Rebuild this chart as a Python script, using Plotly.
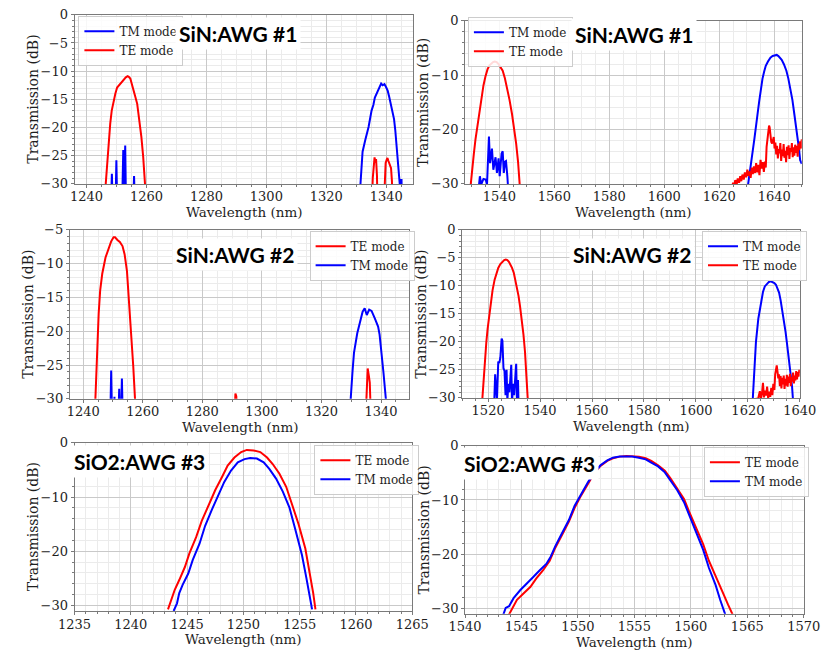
import plotly.graph_objects as go

W, H = 837, 659

# ---------------- spectra (wavelength in nm, transmission in dB) ----------------
# SiN AWG #1, O-band channel
awg1_o_tm_wl = [1244.0, 1248.2, 1248.45, 1248.7, 1249.7, 1249.95, 1250.2, 1251.9, 1252.25, 1252.55,
                1252.9, 1253.15, 1255.6, 1255.85, 1256.1, 1290.0, 1331.2, 1331.4, 1332.1, 1333.0,
                1334.1, 1335.1, 1335.7, 1336.2, 1336.8, 1337.3, 1337.8, 1338.3, 1338.8, 1339.4,
                1340.0, 1340.5, 1341.0, 1341.5, 1342.1, 1342.6, 1343.0, 1343.4, 1343.8, 1344.2,
                1344.5, 1344.6, 1344.8, 1345.1, 1345.2, 1350.0]
awg1_o_tm_db = [-40, -33, -28.2, -33, -33, -25.8, -33, -33, -24.0, -31,
                -23.2, -33, -33, -28.6, -33, -40, -33, -30, -24.3, -22.2,
                -19.9, -17.0, -16.0, -14.7, -13.9, -13.2, -12.8, -12.2, -12.5, -12.3,
                -12.9, -13.5, -14.6, -15.8, -17.0, -18.5, -20.4, -22.8, -25.0, -27.5,
                -30, -33, -29.3, -29.3, -33, -40]
awg1_o_te_wl = [1240.0, 1246.2, 1246.4, 1246.7, 1247.3, 1247.9, 1248.4, 1249.0, 1249.6, 1250.2,
                1250.8, 1251.4, 1252.0, 1252.5, 1253.1, 1253.7, 1254.1, 1254.6, 1255.0, 1255.4,
                1255.8, 1256.2, 1256.9, 1257.5, 1257.9, 1258.3, 1258.9, 1259.5, 1259.7, 1260.0,
                1300.0, 1335.2, 1335.5, 1335.8, 1336.1, 1336.4, 1336.6, 1336.9, 1337.1, 1339.2,
                1339.5, 1339.8, 1340.1, 1340.4, 1340.7, 1341.0, 1341.3, 1341.6, 1341.9, 1342.1,
                1350.0]
awg1_o_te_db = [-40, -34, -30, -27.5, -23.0, -19.3, -17.0, -15.3, -14.0, -12.9,
                -12.5, -12.2, -11.8, -11.5, -11.1, -10.9, -11.0, -11.3, -12.2, -13.0,
                -13.7, -14.4, -15.8, -18.2, -20.0, -21.7, -25.2, -28.7, -30, -34,
                -40, -34, -29.0, -26.5, -25.3, -26.2, -25.6, -28.5, -34, -34,
                -28.5, -26.3, -25.8, -25.4, -25.9, -26.4, -26.9, -27.2, -29.5, -34,
                -40]

# SiN AWG #1, C/L-band channel
awg1_c_tm_wl = [1527.5, 1532.5, 1532.9, 1533.4, 1534.2, 1535.0, 1535.5, 1535.9, 1536.2, 1536.6,
                1537.1, 1537.3, 1537.8, 1538.3, 1538.6, 1539.1, 1539.7, 1540.1, 1540.8, 1541.2,
                1541.6, 1542.1, 1542.4, 1542.9, 1543.2, 1580.0, 1630.3, 1630.5, 1631.1, 1631.6,
                1632.2, 1632.8, 1633.4, 1633.9, 1634.5, 1635.1, 1635.7, 1636.3, 1636.9, 1637.7,
                1638.6, 1639.4, 1640.3, 1640.9, 1641.5, 1642.1, 1642.7, 1643.5, 1644.4, 1645.1,
                1645.9, 1646.6, 1647.3, 1647.9, 1648.5, 1649.0, 1649.4, 1650.0]
awg1_c_tm_db = [-40, -30.7, -28.6, -30.1, -29.1, -29.2, -30.1, -22.6, -21.3, -26.2,
                -23.8, -23.5, -27.4, -25.3, -25.1, -28.0, -25.3, -28.6, -24.4, -24.0,
                -28.0, -25.9, -25.8, -28.6, -31.0, -40, -33, -30, -27.4, -25.5,
                -23.8, -21.6, -19.6, -17.2, -14.9, -12.7, -10.7, -9.4, -8.3, -7.5,
                -6.8, -6.5, -6.3, -6.3, -6.5, -6.8, -7.2, -8.0, -9.2, -10.6,
                -12.5, -14.6, -17.2, -19.3, -21.4, -23.6, -25.6, -26.3]
awg1_c_te_wl = [1527.0, 1529.4, 1529.6, 1530.0, 1530.7, 1531.3, 1531.9, 1532.5, 1533.0, 1533.6,
                1534.2, 1534.9, 1535.7, 1536.4, 1537.1, 1537.7, 1538.3, 1539.0, 1539.7, 1540.4,
                1541.2, 1542.0, 1542.9, 1543.7, 1544.6, 1545.3, 1546.1, 1546.8, 1547.5, 1547.8,
                1590.0, 1624.5, 1625.0, 1625.4, 1625.8, 1626.3, 1626.7, 1627.2, 1627.6, 1628.0,
                1628.4, 1628.9, 1629.3, 1629.8, 1630.2, 1630.6, 1631.0, 1631.4, 1631.8, 1632.2,
                1632.6, 1633.0, 1633.4, 1633.8, 1634.2, 1634.6, 1635.0, 1635.4, 1635.8, 1636.2,
                1636.6, 1636.9, 1637.2, 1637.5, 1637.8, 1638.1, 1638.3, 1638.6, 1638.9, 1639.2,
                1639.5, 1639.8, 1640.1, 1640.4, 1640.7, 1641.0, 1641.3, 1641.6, 1641.9, 1642.2,
                1642.5, 1642.8, 1643.1, 1643.4, 1643.7, 1644.0, 1644.3, 1644.6, 1644.9, 1645.2,
                1645.5, 1645.8, 1646.1, 1646.4, 1646.7, 1647.0, 1647.3, 1647.6, 1647.9, 1648.2,
                1648.5, 1648.8, 1649.1, 1649.4, 1649.7, 1650.0]
awg1_c_te_db = [-40, -33, -30, -27.5, -24.5, -21.8, -19.6, -17.3, -15.4, -13.5,
                -11.9, -10.3, -8.9, -8.2, -7.8, -7.6, -7.5, -7.6, -8.0, -8.5,
                -9.2, -10.6, -12.5, -14.6, -17.2, -19.6, -22.6, -26.0, -30, -33,
                -40, -31, -29.8, -30.5, -29.3, -30.2, -29.0, -29.8, -28.6, -29.5,
                -28.3, -29.2, -27.9, -28.8, -27.4, -28.5, -27.7, -28.9, -27.0, -28.2,
                -26.8, -28.0, -26.2, -27.9, -26.5, -28.4, -25.6, -27.2, -26.0, -27.8,
                -25.9, -27.0, -23.2, -21.5, -20.2, -19.3, -19.6, -21.2, -22.3, -22.6,
                -21.8, -21.4, -23.5, -22.4, -24.6, -23.0, -25.3, -23.6, -24.4, -22.5,
                -25.8, -23.7, -24.9, -22.7, -25.2, -23.9, -26.0, -23.2, -24.7, -22.9,
                -25.4, -23.4, -24.1, -22.5, -25.1, -23.3, -24.8, -22.8, -24.3, -23.0,
                -25.0, -22.6, -23.8, -22.2, -23.5, -21.8]

# SiN AWG #2, O-band channel
awg2_o_te_wl = [1236.0, 1243.9, 1244.1, 1244.4, 1244.8, 1245.2, 1245.7, 1246.4, 1247.5, 1248.6,
                1249.4, 1250.2, 1250.7, 1251.5, 1252.3, 1253.2, 1253.9, 1254.7, 1255.3, 1256.1,
                1256.8, 1257.4, 1257.7, 1275.0, 1290.8, 1291.1, 1291.4, 1291.7, 1310.0, 1334.8,
                1335.2, 1335.5, 1335.9, 1336.2, 1336.6, 1349.5]
awg2_o_te_db = [-40, -33, -30, -25.6, -21.2, -17.4, -14.0, -11.5, -9.1, -7.7,
                -6.7, -6.1, -6.1, -6.5, -6.8, -7.4, -8.6, -11.1, -14.9, -19.8,
                -25.1, -30, -33, -40, -33, -29.2, -29.6, -33, -40, -33,
                -28.3, -25.5, -26.6, -27.6, -33, -40]
awg2_o_tm_wl = [1236.0, 1249.1, 1249.4, 1249.7, 1250.3, 1250.5, 1250.7, 1251.8, 1252.1, 1252.3,
                1252.7, 1253.0, 1253.3, 1290.0, 1329.6, 1329.8, 1330.4, 1330.9, 1332.0, 1333.1,
                1333.8, 1334.5, 1335.2, 1336.0, 1336.8, 1337.9, 1339.0, 1339.5, 1340.1, 1340.8,
                1341.6, 1341.8, 1349.5]
awg2_o_tm_db = [-40, -33, -25.8, -33, -33, -29.7, -33, -33, -28.5, -33,
                -33, -27.0, -33, -40, -33, -30, -26.0, -23.2, -20.3, -18.3,
                -17.1, -16.6, -17.6, -16.8, -17.0, -18.1, -19.3, -20.5, -22.7, -26.1,
                -30, -33, -40]

# SiN AWG #2, C/L-band channel
awg2_c_te_wl = [1512.0, 1517.6, 1517.8, 1518.3, 1518.8, 1519.3, 1519.8, 1520.4, 1521.0, 1521.7,
                1522.5, 1523.2, 1523.9, 1524.7, 1525.5, 1526.2, 1526.8, 1527.4, 1528.0, 1528.6,
                1529.2, 1529.9, 1530.5, 1531.1, 1531.7, 1532.3, 1532.9, 1533.6, 1534.2, 1534.8,
                1535.4, 1535.6, 1580.0, 1623.2, 1623.4, 1623.8, 1624.2, 1624.6, 1625.0, 1625.4,
                1625.8, 1626.2, 1626.6, 1627.0, 1627.4, 1627.8, 1628.2, 1628.6, 1629.0, 1629.4,
                1629.8, 1630.2, 1630.5, 1630.8, 1631.1, 1631.4, 1631.7, 1632.0, 1632.3, 1632.6,
                1632.9, 1633.2, 1633.5, 1633.8, 1634.1, 1634.4, 1634.7, 1635.0, 1635.3, 1635.6,
                1635.9, 1636.2, 1636.5, 1636.8, 1637.1, 1637.4, 1637.7, 1638.0, 1638.3, 1638.6,
                1638.9, 1639.2, 1639.5, 1639.8, 1640.0]
awg2_c_te_db = [-40, -33, -30, -26.0, -22.9, -20.1, -17.7, -15.2, -13.0, -10.8,
                -8.9, -7.7, -6.8, -6.1, -5.7, -5.4, -5.3, -5.4, -5.7, -6.2,
                -6.8, -7.7, -8.9, -10.2, -11.8, -13.7, -15.9, -18.7, -21.8, -25.5,
                -30, -33, -40, -33, -30, -30.5, -29.6, -28.8, -30.2, -29.3,
                -27.3, -29.9, -28.7, -29.6, -28.0, -30.1, -28.9, -29.8, -28.2, -29.5,
                -27.5, -28.6, -25.8, -24.4, -24.2, -25.3, -26.5, -25.8, -27.9, -26.1,
                -28.3, -26.4, -27.6, -26.0, -28.4, -26.6, -27.8, -25.9, -28.0, -26.2,
                -27.3, -25.7, -27.9, -26.3, -27.1, -25.5, -27.4, -26.0, -26.9, -25.2,
                -26.7, -25.4, -26.2, -25.0, -25.6]
awg2_c_tm_wl = [1515.0, 1522.2, 1522.7, 1523.0, 1523.4, 1523.9, 1524.3, 1524.7, 1525.2, 1525.5,
                1525.9, 1526.3, 1526.7, 1527.1, 1527.4, 1527.8, 1528.2, 1528.6, 1528.9, 1529.2,
                1529.6, 1530.0, 1530.5, 1530.8, 1531.1, 1531.5, 1531.7, 1532.0, 1600.0, 1621.7,
                1621.9, 1622.4, 1623.1, 1624.0, 1624.6, 1625.2, 1625.8, 1626.5, 1627.3, 1628.1,
                1628.8, 1629.5, 1630.2, 1630.8, 1631.4, 1632.0, 1632.6, 1633.2, 1633.9, 1634.5,
                1635.1, 1635.7, 1636.2, 1636.7, 1637.0, 1637.3, 1637.5, 1640.0]
awg2_c_tm_db = [-40, -33, -25.8, -27.5, -30.5, -23.5, -23.8, -22.8, -19.4, -19.8,
                -24.7, -25.2, -29.5, -25.0, -30.5, -27.5, -29.0, -26.2, -24.1, -31,
                -27.5, -29.5, -24.1, -23.9, -31, -26.8, -31, -40, -40, -33,
                -30, -24.7, -20.0, -15.9, -14.0, -12.4, -11.1, -10.1, -9.6, -9.3,
                -9.2, -9.3, -9.5, -9.8, -10.4, -11.2, -12.6, -14.2, -16.1, -18.2,
                -20.5, -22.9, -24.7, -26.4, -28.0, -30, -33, -40]

# SiO2 AWG #3, O-band channel
awg3_o_te_wl = [1243.3, 1243.4, 1243.6, 1243.9, 1244.3, 1244.8, 1245.2, 1245.8, 1246.3, 1246.9,
                1247.5, 1248.1, 1248.6, 1249.2, 1249.8, 1250.3, 1250.9, 1251.5, 1252.1, 1252.6,
                1253.2, 1253.8, 1254.3, 1254.9, 1255.5, 1255.9, 1256.2, 1256.4]
awg3_o_te_db = [-30.7, -30.1, -28.6, -27.1, -25.3, -22.9, -20.4, -17.4, -14.4, -11.4,
                -8.7, -6.3, -4.2, -2.7, -1.7, -1.3, -1.4, -1.7, -2.7, -3.9,
                -5.7, -8.1, -11.1, -15.0, -19.5, -24.1, -27.7, -30.7]
awg3_o_tm_wl = [1243.8, 1244.1, 1244.3, 1244.6, 1245.1, 1245.5, 1246.1, 1246.6, 1247.2, 1247.8,
                1248.3, 1248.9, 1249.5, 1250.1, 1250.6, 1251.2, 1251.8, 1252.3, 1252.9, 1253.5,
                1254.1, 1254.6, 1255.2, 1255.6, 1255.9, 1256.1]
awg3_o_tm_db = [-31.0, -29.6, -27.7, -26.2, -24.1, -21.6, -18.6, -15.3, -12.3, -9.6,
                -7.2, -5.1, -3.6, -3.0, -2.8, -2.9, -3.6, -4.8, -6.6, -9.0,
                -12.0, -15.9, -20.7, -25.0, -28.3, -30.7]

# SiO2 AWG #3, C-band channel
awg3_c_te_wl = [1543.9, 1544.2, 1544.6, 1545.2, 1545.8, 1546.3, 1546.9, 1547.5, 1548.0, 1548.6,
                1549.2, 1549.7, 1550.3, 1550.9, 1551.4, 1552.0, 1552.6, 1553.1, 1553.7, 1554.3,
                1554.8, 1555.4, 1556.0, 1556.5, 1557.1, 1557.7, 1558.2, 1558.8, 1559.4, 1559.9,
                1560.5, 1561.1, 1561.6, 1562.2, 1562.8, 1563.3, 1563.7]
awg3_c_te_db = [-31.1, -29.9, -28.4, -27.2, -26.0, -24.5, -23.0, -21.2, -18.8, -16.4,
                -14.0, -11.5, -9.1, -7.0, -5.2, -3.7, -2.8, -2.3, -2.0, -1.9,
                -1.9, -2.0, -2.3, -2.8, -3.6, -4.6, -6.0, -7.8, -9.8, -12.4,
                -15.2, -18.2, -21.2, -24.2, -26.9, -29.3, -31.1]
awg3_c_tm_wl = [1543.4, 1543.6, 1543.9, 1544.3, 1544.9, 1545.5, 1546.0, 1546.6, 1547.2, 1547.6,
                1548.0, 1548.6, 1549.2, 1549.7, 1550.3, 1550.9, 1551.4, 1552.0, 1552.6, 1553.1,
                1553.7, 1554.3, 1554.8, 1555.4, 1556.0, 1556.5, 1557.1, 1557.7, 1558.2, 1558.8,
                1559.4, 1559.9, 1560.5, 1561.1, 1561.6, 1562.2, 1562.6, 1562.9, 1563.1]
awg3_c_tm_db = [-31.1, -29.9, -29.6, -28.1, -26.6, -25.4, -24.3, -23.0, -21.8, -20.4,
                -18.5, -16.1, -13.7, -11.1, -8.8, -6.7, -5.1, -3.6, -2.7, -2.2,
                -2.0, -2.0, -2.0, -2.2, -2.5, -3.1, -3.8, -4.9, -6.4, -8.2,
                -10.4, -13.0, -16.0, -19.2, -22.5, -25.7, -28.4, -30.5, -31.4]

# ---------------- panel layout ----------------
BLUE, RED = "#0000ff", "#ff0000"
SERIF = "DejaVu Serif"
TXT = "#1e1e1e"
FRAME = "#7a7a7a"

panels = [
    dict(box=(60, 413, 8, 181), xr=[1236, 1349], xdt=20, xmn=5, yr=[-30, 0], ydt=5, ymn=1,
         label="SiN:AWG #1", lab_xy=(230, 27), leg_xy=(64, 9),
         traces=[("TM mode", BLUE, awg1_o_tm_wl, awg1_o_tm_db),
                 ("TE mode", RED, awg1_o_te_wl, awg1_o_te_db)]),
    dict(box=(467, 818, 14, 181), xr=[1527.5, 1650], xdt=20, xmn=5, yr=[-30, 0], ydt=10, ymn=2,
         label="SiN:AWG #1", lab_xy=(643, 28), leg_xy=(470, 10),
         traces=[("TM mode", BLUE, awg1_c_tm_wl, awg1_c_tm_db),
                 ("TE mode", RED, awg1_c_te_wl, awg1_c_te_db)]),
    dict(box=(55, 409, 228, 401), xr=[1235.5, 1349.5], xdt=20, xmn=5, yr=[-30, -5], ydt=5, ymn=1,
         label="SiN:AWG #2", lab_xy=(227, 253), leg_xy=(305, 229),
         traces=[("TE mode", RED, awg2_o_te_wl, awg2_o_te_db),
                 ("TM mode", BLUE, awg2_o_tm_wl, awg2_o_tm_db)]),
    dict(box=(464, 816, 228, 400), xr=[1510, 1640], xdt=20, xmn=5, yr=[-30, 0], ydt=5, ymn=1,
         label="SiN:AWG #2", lab_xy=(641, 253), leg_xy=(714, 229),
         traces=[("TM mode", BLUE, awg2_c_tm_wl, awg2_c_tm_db),
                 ("TE mode", RED, awg2_c_te_wl, awg2_c_te_db)]),
    dict(box=(60, 412, 446, 618), xr=[1235, 1265], xdt=5, xmn=1, yr=[-31, 0], ydt=10, ymn=2,
         label="SiO2:AWG #3", lab_xy=(128, 465), leg_xy=(310, 448),
         traces=[("TE mode", RED, awg3_o_te_wl, awg3_o_te_db),
                 ("TM mode", BLUE, awg3_o_tm_wl, awg3_o_tm_db)]),
    dict(box=(467, 820, 449, 621), xr=[1540, 1570], xdt=5, xmn=1, yr=[-31, 0], ydt=10, ymn=2,
         label="SiO2:AWG #3", lab_xy=(534, 467), leg_xy=(716, 450),
         traces=[("TE mode", RED, awg3_c_te_wl, awg3_c_te_db),
                 ("TM mode", BLUE, awg3_c_tm_wl, awg3_c_tm_db)]),
]


def px(x):
    return x / W


def py(y):
    return 1 - y / H


def tick_text(v):
    v = int(round(v))
    return ("\u2212" + str(-v)) if v < 0 else str(v)


fig = go.Figure()
annotations = []
layout_axes = {}

for i, p in enumerate(panels, start=1):
    xa = "x" if i == 1 else f"x{i}"
    ya = "y" if i == 1 else f"y{i}"
    leg = "legend" if i == 1 else f"legend{i}"
    l, r, t, b = p["box"]

    for name, color, wl, db in p["traces"]:
        fig.add_trace(go.Scatter(x=wl, y=db, mode="lines", name=name,
                                 line=dict(color=color, width=2),
                                 xaxis=xa, yaxis=ya, legend=leg))

    x0, x1 = p["xr"]
    first = int(x0) + (-int(x0)) % p["xdt"]
    xt = [v for v in range(first, int(x1) + 1, p["xdt"])]
    y0, y1 = p["yr"]
    yt = [v for v in range(-30, 1, p["ydt"]) if y0 - 1e-9 <= v <= y1 + 1e-9]

    common = dict(showline=True, mirror=True, linecolor=FRAME, linewidth=1,
                  ticks="outside", ticklen=3, tickwidth=1, tickcolor=FRAME,
                  showgrid=True, gridcolor="#c9c9c9", gridwidth=1, zeroline=False,
                  tickfont=dict(family=SERIF, size=13, color=TXT))
    layout_axes["xaxis" if i == 1 else f"xaxis{i}"] = dict(
        common, domain=[px(l), px(r)], range=[x0, x1], anchor=ya,
        tickmode="array", tickvals=xt, ticktext=[str(v) for v in xt],
        ticklabelstandoff=-2,
        minor=dict(dtick=p["xmn"], tick0=0, ticks="outside", ticklen=2, tickcolor=FRAME,
                   showgrid=True, gridcolor="#ebebeb", gridwidth=1))
    layout_axes["yaxis" if i == 1 else f"yaxis{i}"] = dict(
        common, domain=[py(b), py(t)], range=[y0, y1], anchor=xa,
        tickmode="array", tickvals=yt, ticktext=[tick_text(v) for v in yt],
        minor=dict(dtick=p["ymn"], tick0=0, ticks="outside", ticklen=2, tickcolor=FRAME,
                   showgrid=True, gridcolor="#ebebeb", gridwidth=1))

    layout_axes[leg] = dict(
        x=px(p["leg_xy"][0]), y=py(p["leg_xy"][1]), xanchor="left", yanchor="top",
        bgcolor="rgba(255,255,255,0.85)", bordercolor="#cccccc", borderwidth=1,
        font=dict(family=SERIF, size=12, color=TXT), itemwidth=30, tracegroupgap=0)

    # panel tag
    annotations.append(dict(
        x=px(p["lab_xy"][0]), y=py(p["lab_xy"][1]), xref="paper", yref="paper",
        text=f"<b>{p['label']}</b>", showarrow=False, xanchor="center", yanchor="middle",
        font=dict(family="Lato", size=21, color="#000000"), bgcolor="#ffffff", borderpad=3))
    # axis titles
    annotations.append(dict(
        x=px((l + r) / 2), y=py(b + 29), xref="paper", yref="paper",
        text="Wavelength (nm)", showarrow=False, xanchor="center", yanchor="middle",
        font=dict(family=SERIF, size=13.5, color=TXT)))
    annotations.append(dict(
        x=px(l - 43), y=py((t + b) / 2), xref="paper", yref="paper",
        text="Transmission (dB)", showarrow=False, xanchor="center", yanchor="middle",
        textangle=-90, font=dict(family=SERIF, size=14, color=TXT)))

fig.update_layout(
    width=W, height=H, margin=dict(l=0, r=0, t=0, b=0),
    paper_bgcolor="#ffffff", plot_bgcolor="#ffffff",
    showlegend=True, annotations=annotations, **layout_axes)

# the page body keeps no default margin so the figure sits at the window's corner
fig.write_html("out.html", post_script="document.body.style.margin='0px';")
